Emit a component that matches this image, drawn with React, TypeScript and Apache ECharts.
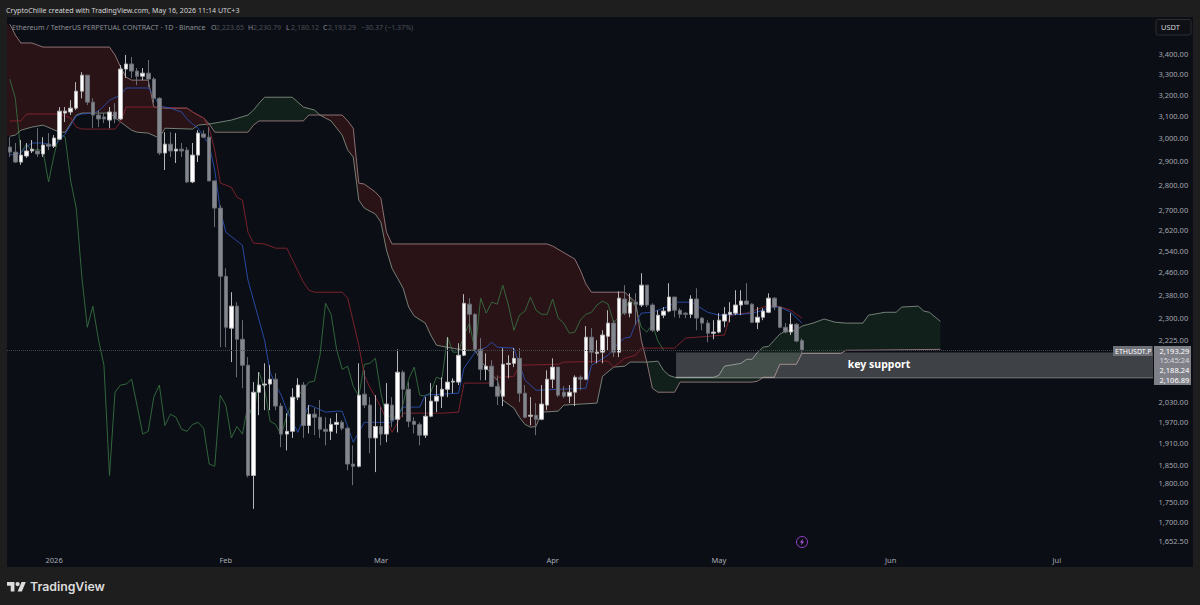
import React, { useEffect, useRef } from "react";
import * as echarts from "echarts";

const WIDTH = 1200;
const HEIGHT = 605;
const FONT = '"Noto Sans", sans-serif';

// day index 0 = 24 Dec 2025
const dayCount = 206;
const monthLabels: Record<number, string> = { 8: "2026", 39: "Feb", 67: "Mar", 98: "Apr", 128: "May", 159: "Jun", 189: "Jul" };
const priceTicks = [3400, 3300, 3200, 3100, 3000, 2900, 2800, 2700, 2620, 2540, 2460, 2380, 2300, 2225, 2030, 1970, 1910, 1850, 1800, 1750, 1700, 1652.5];
const priceMin = 1590;
const priceMax = 3591.6;

// open, close, low, high
const ohlc = [
  [2962,2940,2919,3006],[2940,2897,2893,2980],[2897,2927,2885,2993],[2923,2945,2915,2980],[2945,2953,2936,2993],[2945,2932,2919,3046],
  [2932,2971,2919,3006],[2975,2966,2949,3024],[2966,3002,2958,3015],[2997,3124,2993,3143],[3115,3124,3074,3143],[3120,3138,3106,3175],
  [3138,3218,3129,3261],[3218,3295,3184,3310],[3295,3166,3152,3295],[3166,3106,3046,3184],[3106,3088,3051,3129],[3097,3088,3069,3115],
  [3083,3120,3046,3143],[3120,3088,3069,3161],[3088,3325,3083,3345],[3325,3350,3281,3395],[3350,3315,3281,3385],[3315,3290,3247,3330],
  [3290,3305,3271,3330],[3305,3276,3237,3370],[3276,3184,3161,3285],[3184,2936,2927,3189],[2936,2975,2863,3028],[2975,2945,2919,3028],
  [2945,2953,2893,3024],[2953,2945,2919,2980],[2949,2813,2808,2962],[2813,2927,2808,2980],[2927,3024,2897,3037],[3020,3006,3002,3037],
  [3006,2817,2817,3051],[2817,2706,2631,2821],[2706,2446,2202,2718],[2446,2268,2202,2475],[2265,2340,2154,2389],[2340,2228,2106,2354],
  [2228,2144,2072,2292],[2144,1821,1816,2170],[1821,2060,1733,2091],[2060,2082,1991,2122],[2082,2085,2006,2150],[2085,2100,2006,2144],
  [2100,2018,2006,2119],[2018,1936,1899,2027],[1936,1944,1890,1997],[1944,2045,1925,2072],[2045,2082,2036,2103],[2082,1961,1925,2091],
  [1961,1994,1938,2021],[1994,1985,1933,2012],[1985,1950,1925,2036],[1950,1944,1904,1985],[1944,1964,1919,1982],[1964,1970,1938,1997],
  [1970,1953,1947,1976],[1953,1852,1835,1956],[1852,1846,1795,1904],[1846,2051,1843,2150],[2054,2021,2012,2128],[2021,1925,1882,2045],
  [1925,1958,1830,2051],[1958,1936,1904,2015],[1936,2024,1913,2088],[2021,1976,1956,2045],[1979,2122,1941,2195],[2122,2069,1985,2128],
  [2069,1973,1956,2091],[1973,1964,1938,1985],[1964,1933,1904,1970],[1933,1988,1925,2045],[1988,2033,1985,2088],[2033,2048,2000,2082],
  [2048,2069,2012,2106],[2069,2091,2045,2235],[2091,2094,2057,2103],[2091,2176,2082,2215],[2176,2350,2173,2382],[2347,2312,2248,2368],
  [2312,2195,2192,2316],[2195,2131,2097,2232],[2131,2141,2097,2182],[2141,2078,2075,2160],[2078,2048,2021,2112],[2048,2147,2018,2199],
  [2147,2150,2103,2176],[2150,2166,2138,2199],[2166,2057,2030,2199],[2057,1985,1982,2082],[1988,1991,1961,2045],[1991,1979,1933,2027],
  [1979,2024,1976,2082],[2021,2100,2006,2128],[2100,2138,2072,2166],[2138,2051,2045,2138],[2060,2048,2042,2078],[2048,2060,2027,2082],
  [2060,2106,2018,2112],[2106,2100,2066,2112],[2100,2235,2097,2272],[2235,2186,2150,2265],[2182,2186,2150,2225],[2186,2242,2150,2258],
  [2238,2282,2192,2326],[2282,2186,2170,2292],[2186,2368,2170,2392],[2365,2316,2309,2414],[2316,2354,2302,2385],[2354,2347,2275,2385],
  [2344,2414,2337,2457],[2414,2344,2337,2414],[2344,2258,2252,2350],[2258,2309,2252,2326],[2309,2323,2299,2337],[2323,2372,2319,2421],
  [2372,2326,2302,2372],[2326,2312,2299,2333],[2316,2312,2299,2319],[2312,2365,2299,2378],[2365,2299,2258,2403],[2299,2282,2258,2302],
  [2282,2248,2218,2292],[2248,2252,2228,2292],[2252,2292,2248,2316],[2289,2312,2268,2337],[2312,2319,2285,2354],[2316,2344,2309,2396],
  [2344,2358,2309,2396],[2358,2347,2347,2421],[2347,2285,2282,2350],[2285,2302,2262,2337],[2302,2323,2292,2333],[2319,2368,2316,2385],
  [2368,2337,2326,2372],[2337,2268,2265,2337],[2268,2252,2248,2282],[2252,2278,2242,2316],[2278,2222,2218,2282],[2223.65,2193.29,2180.12,2230.79],
];

// [day, price] vertices
const spanA = [[0,3010],[1,3015],[2,3037],[4,3051],[6,3060],[9,3028],[10,3028],[12,3106],[13,3115],[18,3115],[20,3074],[22,3037],[23,3028],[25,3024],[27,3002],[28,3046],[33,3042],[34,3060],[36,3065],[40,3083],[43,3106],[44,3129],[45,3161],[46,3189],[51,3189],[53,3143],[55,3129],[56,3106],[57,3092],[58,3079],[60,3015],[61,2949],[62,2919],[63,2738],[64,2706],[66,2682],[67,2650],[68,2543],[69,2475],[70,2439],[71,2403],[72,2337],[73,2306],[75,2282],[76,2242],[77,2209],[78,2205],[82,2192],[84,2192],[85,2160],[86,2135],[88,2097],[89,2036],[91,2012],[92,1985],[93,1964],[94,1956],[95,1958],[96,2000],[99,2003],[100,2021],[106,2027],[107,2109],[109,2138],[111,2141],[112,2154],[115,2154],[117,2157],[118,2128],[119,2112],[120,2106],[127,2106],[128,2112],[129,2141],[132,2150],[133,2163],[134,2163],[135,2186],[136,2202],[137,2205],[138,2225],[139,2245],[140,2255],[142,2258],[143,2272],[145,2282],[147,2296],[149,2285],[151,2282],[154,2282],[155,2309],[158,2319],[160,2319],[161,2337],[164,2340],[165,2323],[166,2319],[168,2288]];
const spanB = [[0,3554],[1,3497],[2,3456],[4,3456],[6,3435],[18,3435],[19,3395],[20,3335],[21,3285],[22,3271],[25,3271],[26,3143],[28,3138],[32,3138],[33,3120],[34,3106],[35,3092],[36,3065],[37,3028],[43,3028],[44,3060],[45,3079],[53,3079],[54,3106],[56,3106],[60,3106],[61,3079],[62,3046],[63,2808],[64,2804],[66,2771],[67,2746],[68,2611],[69,2566],[97,2566],[98,2558],[102,2509],[103,2468],[104,2418],[105,2389],[111,2389],[113,2354],[114,2225],[115,2154],[116,2072],[117,2060],[120,2060],[121,2091],[134,2091],[135,2094],[136,2106],[138,2106],[139,2147],[142,2147],[143,2182],[150,2182],[151,2192],[168,2195]];
const tenkan = [[0,2929],[1,2929],[2,2937],[3,2962],[4,2980],[6,2980],[8,2967],[9,2993],[10,3020],[11,3060],[12,3102],[13,3111],[15,3115],[16,3124],[17,3148],[18,3175],[20,3199],[21,3233],[25,3233],[26,3199],[27,3148],[29,3138],[31,3120],[32,3088],[33,3065],[34,3046],[36,2971],[37,2863],[38,2698],[39,2611],[42,2561],[43,2432],[46,2225],[47,2122],[48,2082],[49,2051],[50,2006],[52,1941],[54,2021],[55,2015],[57,2000],[59,2003],[60,2003],[62,1913],[64,1970],[69,1970],[71,2015],[74,2015],[75,2051],[81,2057],[82,2135],[84,2186],[86,2202],[87,2218],[88,2202],[91,2199],[93,2097],[95,2066],[104,2072],[105,2144],[108,2176],[110,2218],[111,2232],[112,2235],[113,2282],[114,2316],[116,2319],[119,2340],[120,2354],[123,2354],[126,2319],[128,2309],[132,2312],[134,2316],[136,2326],[137,2337],[139,2337],[141,2319],[143,2282]];
const kijun = [[0,3079],[2,3079],[3,3111],[9,3111],[11,3092],[12,3051],[13,3042],[19,3042],[20,3074],[21,3143],[26,3143],[32,3138],[33,3120],[35,3092],[36,3046],[37,2949],[38,2808],[40,2791],[41,2750],[42,2738],[43,2611],[44,2569],[46,2566],[48,2550],[50,2550],[53,2425],[54,2396],[55,2389],[60,2389],[61,2368],[63,2209],[64,2112],[65,2075],[67,2015],[68,1976],[69,1941],[71,1997],[78,1997],[81,2000],[82,2088],[87,2088],[88,2106],[91,2109],[92,2144],[99,2147],[100,2154],[108,2157],[109,2138],[111,2166],[113,2176],[114,2199],[120,2199],[122,2232],[129,2242],[130,2306],[131,2312],[133,2316],[136,2337],[138,2344],[141,2326],[143,2299]];

const LAG = 25;
const lagging = ohlc.slice(LAG).map((r, k) => [k, r[1]]);
// cloud segments between the crossings of the two spans
const cloudSegments = [
  { from: 0, to: 36, fill: "#2a1316" },
  { from: 36, to: 56, fill: "#12201c" },
  { from: 56, to: 115, fill: "#2a1316" },
  { from: 115, to: 168, fill: "#12201c" },
];
const supportFromDay = 120;
const supportTop = 2185;
const supportBottom = 2104;
const lastPrice = 2193.29;
const headerText = "CryptoChille created with TradingView.com, May 16, 2026 11:14 UTC+3";
const symbolText = "Ethereum / TetherUS PERPETUAL CONTRACT · 1D · Binance";
const legendLabels: [string, number][] = [["O", 211], ["H", 248], ["L", 286], ["C", 323]];
const legendValues: [string, number][] = [["2,223.65", 216], ["2,230.79", 253], ["2,180.12", 291], ["2,193.29", 328], ["−30.37", 361], ["(−1.37%)", 385]];
const badgeRows: [string, number, string][] = [["2,193.29", 350.5, "#ffffff"], ["15:45:24", 359.5, "#d8d8dc"], ["2,188.24", 369.5, "#ffffff"], ["2,106.89", 379.5, "#ffffff"]];

const fmt = (v: number) => v.toLocaleString("en-US", { minimumFractionDigits: 2, maximumFractionDigits: 2 });

export default function App() {
  const ref = useRef<HTMLDivElement>(null);
  useEffect(() => {
    if (!ref.current) return;
    echarts.graphic.registerShape(
      "tvlogo",
      echarts.graphic.extendPath(
        "M14 22H7V11H0V4h14v18zM28 22h-8l7.5-18h8L28 22zM24 8a4 4 0 1 1-8 0a4 4 0 1 1 8 0z",
        {}
      )
    );
    const chart = echarts.init(ref.current, undefined, { renderer: "svg" });
    const txt = (text: string, x: number, y: number, fill: string, size = 7.5, extra: any = {}) => ({
      type: "text", z: 100, x, y,
      style: { text, fill, fontSize: size, fontFamily: FONT, verticalAlign: "middle", ...extra },
    });
    const option: any = {
      animation: false,
      backgroundColor: "#1e1e1e",
      textStyle: { fontFamily: FONT },
      grid: { left: 7, top: 17, width: 1141.2, height: 550, containLabel: false },
      xAxis: {
        type: "category",
        data: Array.from({ length: dayCount }, (_, i) => String(i)),
        boundaryGap: true,
        axisLine: { show: false },
        axisTick: { show: false },
        splitLine: { show: false },
        axisLabel: {
          inside: true, margin: 3, color: "#a8abb4", fontSize: 7.5, fontFamily: FONT, hideOverlap: false,
          interval: (i: number) => monthLabels[i] !== undefined,
          formatter: (_: string, i: number) => monthLabels[i] ?? "",
        },
      },
      yAxis: [
        {
          type: "log",
          position: "right",
          min: priceMin,
          max: priceMax,
          axisLine: { show: false },
          axisTick: { show: false },
          axisLabel: { show: false },
          splitLine: { show: false },
        },
        {
          // the price scale's labels: same span as the log axis, in log10 units
          type: "value",
          position: "right",
          min: Math.log10(priceMin),
          max: Math.log10(priceMax),
          axisLine: { show: false },
          axisTick: { show: false },
          splitLine: { show: false },
          axisLabel: {
            color: "#a3a6af", fontSize: 7.5, fontFamily: FONT, margin: 40, align: "right",
            showMinLabel: true, showMaxLabel: true, hideOverlap: false,
            customValues: priceTicks.map((p) => Math.log10(p)),
            formatter: (v: number) => fmt(Math.round(Math.pow(10, v) * 10) / 10),
          },
        },
      ],
      graphic: [
        { type: "rect", z: -10, shape: { x: 7, y: 17, width: 1186, height: 550 }, style: { fill: "#0b0e14" } },
        txt(headerText, 6, 10, "#d4d4d6", 7.1),
        txt(symbolText, 12, 26.5, "#8b8e97", 7.05),
        ...legendLabels.map(([t, x]) => txt(t, x, 26.5, "#8b8e97", 7.05)),
        ...legendValues.map(([t, x]) => txt(t, x, 26.5, "#4c4f58", 7.05)),
        { type: "rect", z: 100, shape: { x: 1156, y: 19.5, width: 35, height: 15.5, r: 2 }, style: { fill: "#0e1016", stroke: "#2c2d33", lineWidth: 1 } },
        txt("USDT", 1161, 27, "#d0d2d8", 7.5),
        { type: "rect", z: 100, shape: { x: 1113, y: 346, width: 39.5, height: 10 }, style: { fill: "#6e7078" } },
        txt("ETHUSDT.P", 1115, 351, "#ffffff", 7),
        { type: "rect", z: 100, shape: { x: 1154, y: 346, width: 37, height: 39 }, style: { fill: "#808188" } },
        ...badgeRows.map(([t, y, c]) => txt(t, 1159.5, y, c, 7.5)),
        { type: "circle", z: 100, shape: { cx: 802, cy: 542, r: 5.5 }, style: { fill: "none", stroke: "#9a3fcf", lineWidth: 1 } },
        { type: "polygon", z: 100, shape: { points: [[803, 538.5], [800, 542.6], [801.8, 542.6], [801, 545.5], [804, 541.4], [802.2, 541.4]] }, style: { fill: "#b45de8" } },
        { type: "tvlogo", z: 100, x: 7, y: 579.8, scaleX: 0.53, scaleY: 0.53, style: { fill: "#dcdcdc" } },
        txt("TradingView", 30, 586.5, "#dcdcdc", 12.3, { fontFamily: "Inter", fontWeight: 600 }),
      ],
      series: [
        {
          type: "custom",
          silent: true,
          clip: true,
          data: cloudSegments.map((s, k) => [s.from, lastPrice, k]),
          encode: { x: 0, y: 1 },
          renderItem: (params: any, api: any) => {
            const seg = cloudSegments[api.value(2)];
            const inRange = (p: number[]) => p[0] >= seg.from && p[0] <= seg.to;
            const rows = [...spanA.filter(inRange), ...spanB.filter(inRange).reverse()];
            const points = rows.map((r) => {
              const c = api.coord(r);
              return [r[0] === 0 ? params.coordSys.x : c[0], c[1]];
            });
            return { type: "polygon", shape: { points }, style: { fill: seg.fill } };
          },
          z: 1,
        },
        { type: "line", data: lagging, showSymbol: false, silent: true, z: 2, lineStyle: { color: "#356f41", width: 0.9 } },
        { type: "line", data: spanA, showSymbol: false, silent: true, z: 2, lineStyle: { color: "#7f8c80", width: 0.9 } },
        { type: "line", data: spanB, showSymbol: false, silent: true, z: 2, lineStyle: { color: "#9a7c7e", width: 0.9 } },
        { type: "line", data: kijun, showSymbol: false, silent: true, z: 2, lineStyle: { color: "#86242f", width: 0.9 } },
        { type: "line", data: tenkan, showSymbol: false, silent: true, z: 2, lineStyle: { color: "#2a50b0", width: 0.9 } },
        {
          type: "custom",
          silent: true,
          clip: false,
          z: 3,
          data: [[supportFromDay, supportTop, supportBottom]],
          encode: { x: 0, y: [1, 2] },
          renderItem: (params: any, api: any) => {
            const a = api.coord([api.value(0), api.value(1)]);
            const b = api.coord([api.value(0), api.value(2)]);
            const right = 1153;
            const mid = (a[1] + b[1]) / 2;
            return {
              type: "group",
              children: [
                { type: "rect", shape: { x: a[0] + 1.5, y: a[1], width: right - a[0] - 1.5, height: b[1] - a[1] }, style: { fill: "rgba(255,255,255,0.21)" } },
                { type: "line", shape: { x1: a[0] + 1.5, y1: b[1], x2: right, y2: b[1] }, style: { stroke: "rgba(255,255,255,0.34)", lineWidth: 1 } },
                { type: "text", x: 879, y: mid - 1, style: { text: "key support", fill: "#ffffff", fontSize: 10.5, fontWeight: 700, fontFamily: FONT, align: "center", verticalAlign: "middle" } },
              ],
            };
          },
        },
        {
          type: "candlestick",
          data: ohlc,
          barWidth: 4,
          silent: true,
          z: 4,
          itemStyle: { color: "#ffffff", color0: "#85878f", borderColor: "#b8b8bb", borderColor0: "#6a6c74", borderWidth: 1 },
          markLine: {
            silent: true,
            symbol: "none",
            label: { show: false },
            lineStyle: { color: "#44464e", type: "dotted", width: 1 },
            data: [{ yAxis: lastPrice }],
          },
        },
      ],
    };
    chart.setOption(option);
    return () => chart.dispose();
  }, []);
  return <div ref={ref} style={{ position: "fixed", left: 0, top: 0, width: WIDTH, height: HEIGHT }} />;
}
